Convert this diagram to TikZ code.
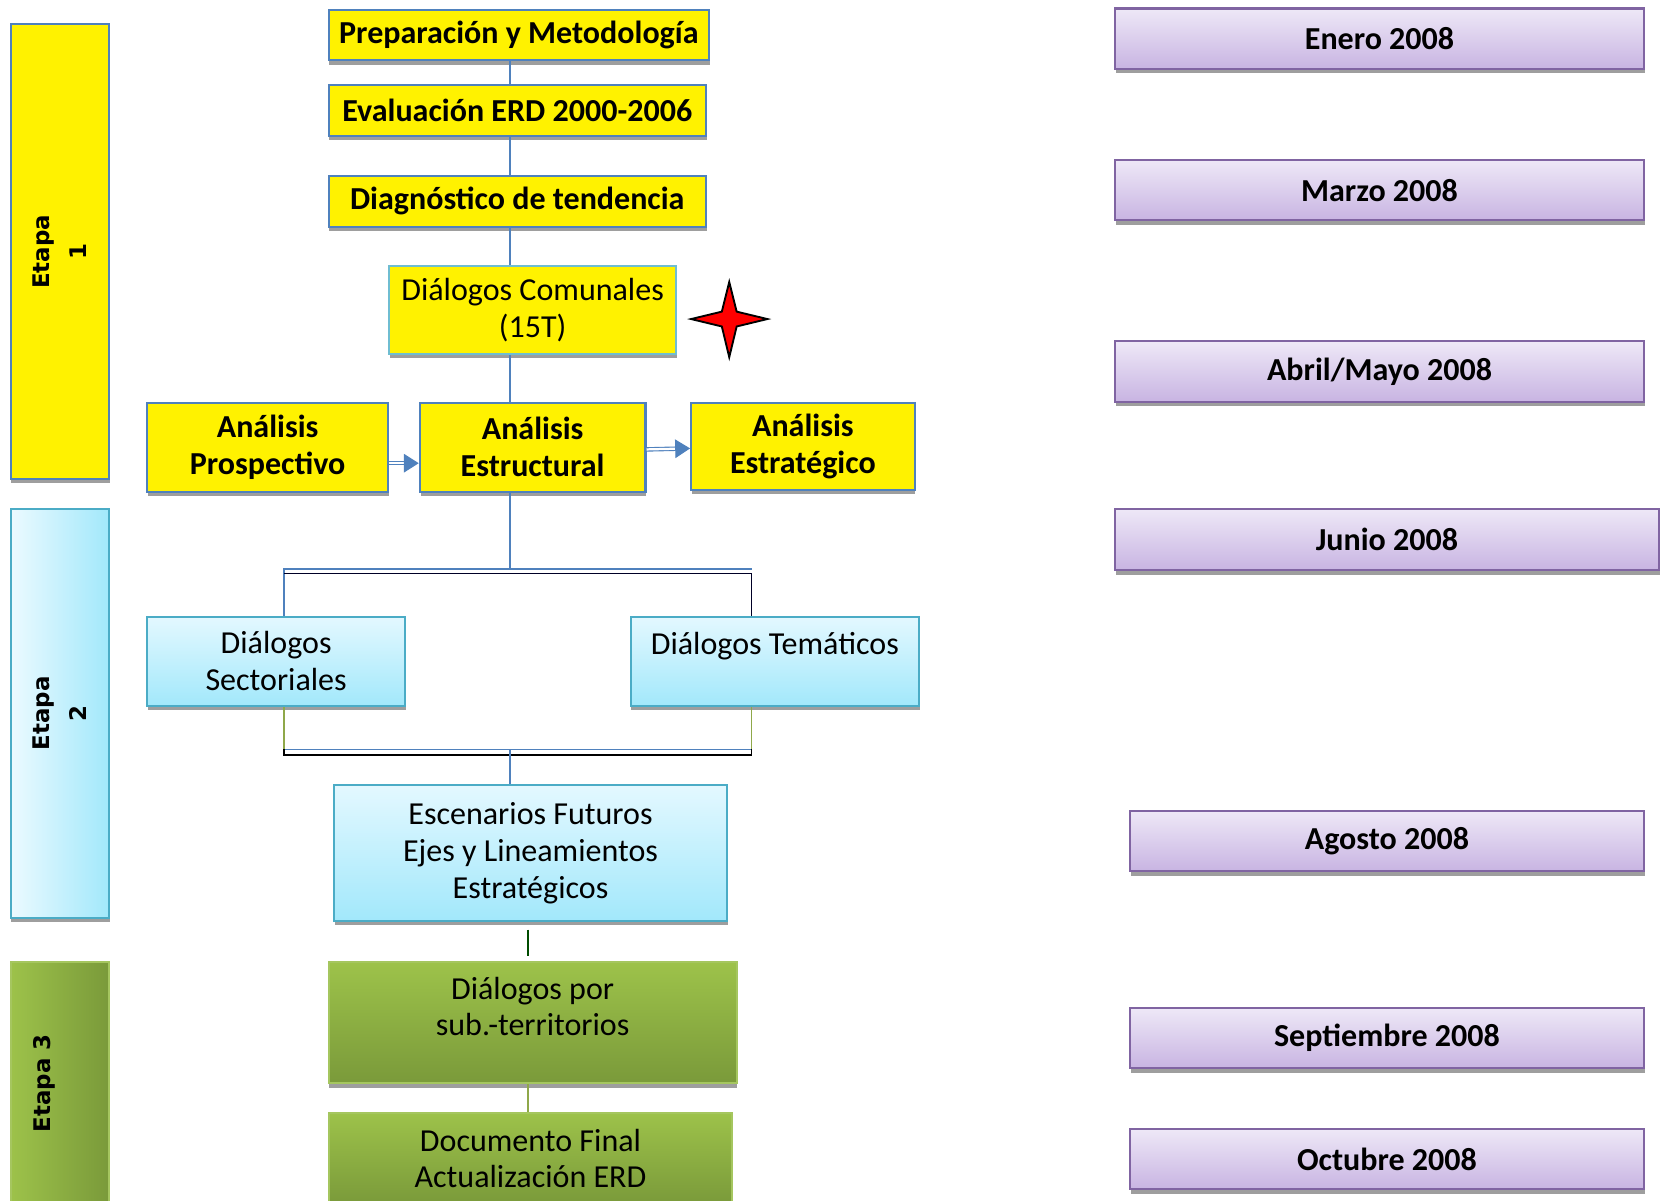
\documentclass[tikz,border=0pt]{standalone}
\usepackage{fontspec}
\setmainfont{Carlito}
\newfontfamily\etapafont{DejaVu Sans}
\usetikzlibrary{shadows,arrows.meta,calc}
\definecolor{bbd}{HTML}{4F81BD}
\definecolor{cbd}{HTML}{4BACC6}
\definecolor{gbd}{HTML}{A5C65F}
\definecolor{pbd}{HTML}{8064A2}
\definecolor{ctop}{HTML}{E3F8FF}
\definecolor{cbot}{HTML}{A2E8FB}
\definecolor{gtop}{HTML}{9DC24A}
\definecolor{gbot}{HTML}{7A9A3A}
\definecolor{ptop}{HTML}{EEE8F7}
\definecolor{pbot}{HTML}{C8B4E2}
\definecolor{olive}{HTML}{8FA84A}
\begin{document}
\begin{tikzpicture}[x=0.02cm,y=-0.02cm,
  shd/.style={drop shadow={shadow xshift=0.4pt,shadow yshift=-2.3pt,fill=black!38,opacity=1}},
  basebox/.style={rectangle,inner sep=0pt,align=center,shd,line width=1.1pt,
     font=\fontsize{17.2}{19.8}\selectfont},
  ybox/.style={basebox,draw=bbd,fill=yellow,font=\fontsize{17.2}{19.8}\selectfont\bfseries},
  ycbox/.style={basebox,draw=cbd!80,fill=yellow},
  cbox/.style={basebox,draw=cbd,top color=ctop,bottom color=cbot},
  gbox/.style={basebox,draw=gbd,top color=gtop,bottom color=gbot},
  dbox/.style={basebox,draw=pbd,top color=ptop,bottom color=pbot,
     font=\fontsize{17.2}{19.8}\selectfont\bfseries,minimum width=9.98cm,minimum height=1.14cm},
  etapa/.style={rectangle,inner sep=0pt,align=center,shd,line width=1.1pt,minimum width=1.86cm},
  etxt/.style={rotate=90,align=center,font=\etapafont\fontsize{12.3}{20}\selectfont\bfseries},
  conn/.style={draw=bbd,line width=0.8pt},
  gconn/.style={draw=olive,line width=0.8pt},
  arr/.style={draw=bbd,double=white,double distance=1.2pt,line width=0.6pt,
     -{Triangle[length=8pt,width=10pt,fill=bbd]}}]
\useasboundingbox (0,0) rectangle (1568,1133);
\clip (0,0) rectangle (1568,1133);

% Etapa boxes
\node[etapa,draw=bbd,fill=yellow,minimum height=8.58cm] (e1) at (56.5,237.5) {};
\node[etxt] (e1t) at (e1.center) {Etapa\\1};
\node[etapa,draw=cbd,left color=ctop!70!white,right color=cbot,minimum height=7.72cm] (e2) at (56.5,673) {};
\node[etxt] (e2t) at (e2.center) {Etapa\\2};
\node[etapa,draw=gbd,left color=gtop,right color=gbot,minimum height=4.56cm] (e3) at (56.5,1022) {};
\node[etxt] (e3t) at ([xshift=-0.3cm]e3.center) {Etapa 3};

% Main flow
\node[ybox,minimum width=7.18cm,minimum height=0.96cm] (prep) at (489.5,33) {Preparación y Metodología};
\node[ybox,minimum width=7.12cm,minimum height=0.96cm] (eval) at (488,104) {Evaluación ERD 2000-2006};
\node[ybox,minimum width=7.12cm,minimum height=0.96cm] (diag) at (488,190) {Diagnóstico de tendencia};
\node[ycbox,minimum width=5.42cm,minimum height=1.66cm] (com) at (502.5,292.5) {Diálogos Comunales\\(15T)};
\node[ybox,minimum width=4.54cm,minimum height=1.68cm] (pros) at (252.5,422) {Análisis\\Prospectivo};
\node[ybox,minimum width=4.26cm,minimum height=1.68cm] (estr) at (502.5,422) {Análisis\\Estructural};
\node[ybox,minimum width=4.22cm,minimum height=1.64cm] (estg) at (757.5,421) {Análisis\\Estratégico};
\node[cbox,minimum width=4.86cm,minimum height=1.68cm] (sect) at (260.5,624) {Diálogos\\Sectoriales};
\node[cbox,minimum width=5.44cm,minimum height=1.68cm] (tema) at (731,624) {Diálogos Temáticos\\[-6.8pt]\strut};
\node[cbox,minimum width=7.42cm,minimum height=2.56cm] (esc) at (500.5,805) {Escenarios Futuros\\Ejes y Lineamientos\\Estratégicos};
\node[gbox,minimum width=7.7cm,minimum height=2.28cm] (dpor) at (502.5,965) {Diálogos por\\sub.-territorios\\[-8pt]\strut};
\node[gbox,minimum width=7.62cm,minimum height=1.72cm] (doc) at (500.5,1093) {Documento Final\\Actualización ERD};

% star
\draw[fill=red,line width=1pt] (688,266) -- (695,294) -- (724,301) -- (695,308) -- (688,337) -- (681,308) -- (652,301) -- (681,294) -- cycle;

% vertical axis connectors
\coordinate (ax) at (481,0);
\draw[conn] (prep.south -| ax) -- (eval.north -| ax);
\draw[conn] (eval.south -| ax) -- (diag.north -| ax);
\draw[conn] (diag.south -| ax) -- (com.north -| ax);
\draw[conn] (com.south -| ax) -- (estr.north -| ax);

% arrows
\draw[arr] ([yshift=-0.3cm]pros.east) -- ([yshift=-0.3cm]estr.west);
\draw[arr] ([yshift=-0.04cm]estr.east) -- ([yshift=-0.04cm]estg.west);

% top bracket
\coordinate (tl) at (268,537);
\coordinate (tr) at (709,537);
\coordinate (tl2) at (268,541);
\coordinate (tr2) at (709,541);
\draw[conn] (estr.south -| ax) -- (tl -| ax);
\draw[conn] (sect.north -| tl) -- (tl) -- (tr);
\draw[black!85!blue,line width=0.9pt] (tl2) -- (tr2) -- (tema.north -| tr2);

% bottom bracket
\coordinate (bl) at (268,707);
\coordinate (br) at (709,707);
\coordinate (bl2) at (268,712);
\coordinate (br2) at (709,712);
\draw[gconn] (sect.south -| bl) -- (bl);
\draw[gconn] (tema.south -| br) -- (br);
\draw[conn] (bl) -- (br);
\draw[black,line width=0.9pt] (bl) -- (bl2) -- (br2) -- (br);
\draw[conn] (bl -| ax) -- (esc.north -| ax);

% lower connectors
\coordinate (ax2) at (498,0);
\draw[black!70!green,line width=0.8pt,shorten <=4pt,shorten >=3pt] (esc.south -| ax2) -- (dpor.north -| ax2);
\draw[gconn] (dpor.south -| ax2) -- (doc.north -| ax2);

% date boxes
\node[dbox] (ene) at (1301.5,36.5) {Enero 2008};
\node[dbox] (mar) at (1301.5,179.5) {Marzo 2008};
\node[dbox] (abr) at (1301.5,350.5) {Abril/Mayo 2008};
\node[dbox,minimum width=10.26cm,minimum height=1.16cm] (jun) at (1308.5,509) {Junio 2008};
\node[dbox,minimum width=9.7cm] (ago) at (1308.5,793.5) {Agosto 2008};
\node[dbox,minimum width=9.7cm] (sep) at (1308.5,979.5) {Septiembre 2008};
\node[dbox,minimum width=9.7cm] (oct) at (1308.5,1093.5) {Octubre 2008};
\end{tikzpicture}
\end{document}
